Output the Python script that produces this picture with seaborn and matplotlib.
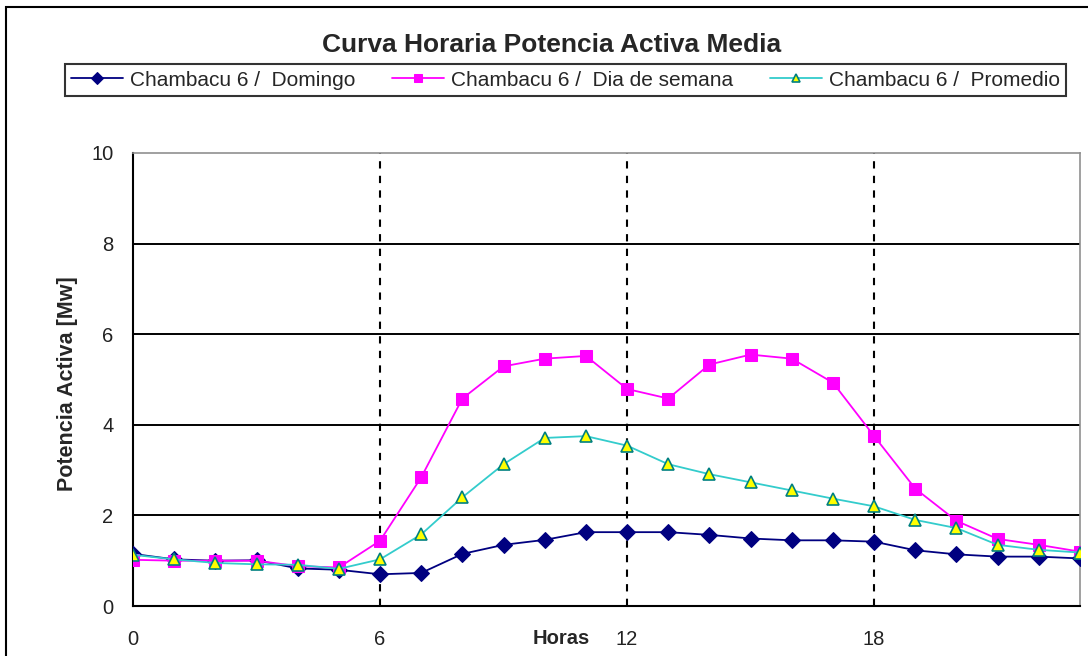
import seaborn as sns
import matplotlib.pyplot as plt
import matplotlib.patches as mpatches
import pandas as pd

# Hourly mean active power, Chambacu 6
horas = list(range(24))
domingo = [1.15, 1.03, 1.00, 1.01, 0.83, 0.80, 0.70, 0.73, 1.15, 1.35, 1.46, 1.63,
           1.63, 1.63, 1.57, 1.49, 1.45, 1.45, 1.42, 1.23, 1.14, 1.09, 1.09, 1.05]
semana = [1.02, 1.00, 1.00, 1.00, 0.88, 0.85, 1.44, 2.84, 4.58, 5.29, 5.46, 5.52,
          4.79, 4.58, 5.33, 5.55, 5.46, 4.93, 3.75, 2.59, 1.88, 1.48, 1.35, 1.20]
promedio = [1.13, 1.03, 0.95, 0.92, 0.91, 0.82, 1.03, 1.58, 2.40, 3.13, 3.71, 3.75,
            3.54, 3.13, 2.91, 2.73, 2.55, 2.37, 2.20, 1.90, 1.72, 1.35, 1.24, 1.18]
series_names = ["Chambacu 6 /  Domingo", "Chambacu 6 /  Dia de semana", "Chambacu 6 /  Promedio"]
x_ticks = [0, 6, 12, 18]
y_ticks = [0, 2, 4, 6, 8, 10]

df = pd.DataFrame({"Horas": horas, "Domingo": domingo, "Semana": semana, "Promedio": promedio})

sns.set_style("white")
plt.rcParams["font.family"] = ["Liberation Sans", "DejaVu Sans"]

fig = plt.figure(figsize=(10.88, 6.56), dpi=100)
ax = fig.add_axes([133 / 1088, 50 / 656, 947 / 1088, 453 / 656])

# outer chart frame
fig.patches.append(mpatches.Rectangle((6 / 1088, -0.1), 1.2, 1 - 7 / 656 + 0.1,
                                      transform=fig.transFigure, fill=False,
                                      edgecolor="black", linewidth=1.5, zorder=0))

# grid: solid horizontals, dashed verticals
for v in y_ticks[1:-1]:
    ax.axhline(v, color="black", linewidth=1.4, zorder=1)
for v in x_ticks[1:]:
    ax.axvline(v, color="black", linewidth=1.5, linestyle=(0, (3.5, 3.5)), zorder=1)

sns.lineplot(data=df, x="Horas", y="Domingo", ax=ax, color="#000080", linewidth=1.3,
             marker="D", markersize=8.5, markerfacecolor="#000080", markeredgecolor="#000080",
             label=series_names[0], zorder=3)
sns.lineplot(data=df, x="Horas", y="Semana", ax=ax, color="#FF00FF", linewidth=1.3,
             marker="s", markersize=9, markerfacecolor="#FF00FF", markeredgecolor="#FF00FF",
             label=series_names[1], zorder=3)
sns.lineplot(data=df, x="Horas", y="Promedio", ax=ax, color="#33CCCC", linewidth=1.3,
             marker="^", markersize=9, markerfacecolor="#FFFF00", markeredgecolor="#008080",
             markeredgewidth=1.2, label=series_names[2], zorder=4)

ax.set_xlim(0, 23)
ax.set_ylim(0, 10)
ax.set_xticks(x_ticks)
ax.set_yticks(y_ticks)
ax.tick_params(axis="x", direction="inout", length=10, width=1.3, labelsize=14.5, pad=12, colors="black")
ax.tick_params(axis="y", direction="out", length=6, width=1.3, labelsize=14.5, pad=8, colors="black")
for lab in ax.get_xticklabels() + ax.get_yticklabels():
    lab.set_color("#222222")

for side in ["left", "bottom"]:
    ax.spines[side].set_color("black")
    ax.spines[side].set_linewidth(1.5)
for side in ["top", "right"]:
    ax.spines[side].set_color("#909090")
    ax.spines[side].set_linewidth(1.2)

ax.set_xlabel("Horas", fontsize=14.5, fontweight="bold", va="center")
ax.xaxis.set_label_coords((561 - 133) / 947, -(638 - 606) / 453)
ax.set_ylabel("Potencia Activa [Mw]", fontsize=15.5, fontweight="bold", va="center")
ax.yaxis.set_label_coords(-(133 - 68) / 947, 0.49)

fig.text(552 / 1088, 1 - 45 / 656, "Curva Horaria Potencia Activa Media",
         ha="center", va="center", fontsize=19, fontweight="bold")

handles, labels = ax.get_legend_handles_labels()
ax.get_legend().remove()
leg = fig.legend(handles, labels, loc="center", ncol=3,
                 bbox_to_anchor=(565.5 / 1088, 1 - 80 / 656), fontsize=15,
                 frameon=True, fancybox=False, edgecolor="black", handlelength=2.5,
                 handletextpad=0.33, columnspacing=1.75, borderpad=0.3, markerscale=0.7)
leg.get_frame().set_linewidth(1.5)

fig.savefig("out.png", dpi=100)
